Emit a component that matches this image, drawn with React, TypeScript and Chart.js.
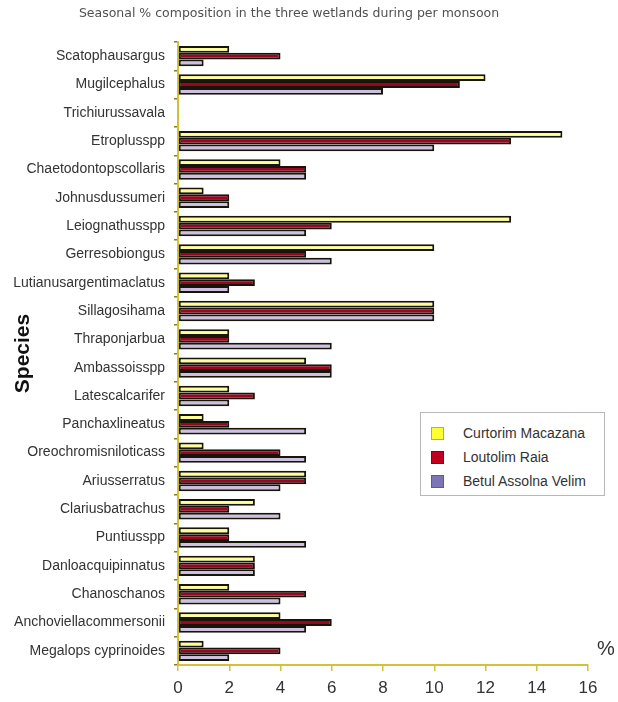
import React, { useEffect, useRef } from "react";
import { Chart, registerables } from "chart.js";

Chart.register(...registerables);

const species = [
  "Scatophausargus",
  "Mugilcephalus",
  "Trichiurussavala",
  "Etroplusspp",
  "Chaetodontopscollaris",
  "Johnusdussumeri",
  "Leiognathusspp",
  "Gerresobiongus",
  "Lutianusargentimaclatus",
  "Sillagosihama",
  "Thraponjarbua",
  "Ambassoisspp",
  "Latescalcarifer",
  "Panchaxlineatus",
  "Oreochromisniloticass",
  "Ariusserratus",
  "Clariusbatrachus",
  "Puntiusspp",
  "Danloacquipinnatus",
  "Chanoschanos",
  "Anchoviellacommersonii",
  "Megalops cyprinoides",
];

const curtorimMacazana = [2, 12, 0, 15, 4, 1, 13, 10, 2, 10, 2, 5, 2, 1, 1, 5, 3, 2, 3, 2, 4, 1];
const loutolimRaia = [4, 11, 0, 13, 5, 2, 6, 5, 3, 10, 2, 6, 3, 2, 4, 5, 2, 2, 3, 5, 6, 4];
const betulAssolnaVelim = [1, 8, 0, 10, 5, 2, 5, 6, 2, 10, 6, 6, 2, 5, 5, 4, 4, 5, 3, 4, 5, 2];

const seriesNames = ["Curtorim Macazana", "Loutolim Raia", "Betul Assolna Velim"];
const xTicks = [0, 2, 4, 6, 8, 10, 12, 14, 16];

const chartTitle = "Seasonal % composition in the three wetlands during per monsoon";

const barFills = ["#ffff99", "#9c0522", "#cdc0e2"];
const legendFills = ["#ffff33", "#c0001e", "#7c76b8"];
const legendEdges = ["#c8b400", "#8a0016", "#5e5898"];
const axisColor = "#d2c23a";
const textColor = "#333333";
const font = "'Liberation Sans', Arial, sans-serif";

const captionPlugin = {
  id: "captions",
  afterDraw(chart: any) {
    const ctx = chart.ctx;
    ctx.save();
    ctx.fillStyle = "#505050";
    ctx.font = `12.5px 'DejaVu Sans', sans-serif`;
    ctx.textAlign = "center";
    ctx.textBaseline = "middle";
    ctx.fillText(chartTitle, 289, 14);
    ctx.fillStyle = textColor;
    ctx.font = `20px ${font}`;
    ctx.fillText("%", 606, 649);
    ctx.restore();
  },
};

export default function App() {
  const ref = useRef<HTMLCanvasElement>(null);

  useEffect(() => {
    const values = [curtorimMacazana, loutolimRaia, betulAssolnaVelim];
    const chart = new Chart(ref.current as HTMLCanvasElement, {
      type: "bar",
      data: {
        labels: species,
        datasets: seriesNames.map((name, i) => ({
          label: name,
          data: values[i],
          backgroundColor: barFills[i],
          borderColor: "#17140a",
          borderWidth: 2,
          borderSkipped: false,
          barPercentage: 1,
          categoryPercentage: 0.72,
        })),
      },
      options: {
        indexAxis: "y",
        responsive: false,
        animation: false,
        layout: { padding: { top: 42, right: 30, left: 0, bottom: 0 } },
        plugins: {
          legend: { display: false },
          tooltip: { enabled: false },
        },
        scales: {
          x: {
            min: 0,
            max: 16,
            afterBuildTicks: (scale: any) => {
              scale.ticks = xTicks.map((v) => ({ value: v }));
            },
            ticks: {
              color: textColor,
              font: { family: font, size: 17 },
              padding: 7,
            },
            grid: { drawOnChartArea: false, tickLength: 6, color: axisColor, lineWidth: 1.5 },
            border: { color: axisColor, width: 2 },
            afterFit: (scale: any) => {
              scale.height = 37;
            },
          },
          y: {
            ticks: {
              color: textColor,
              font: { family: font, size: 14 },
              padding: 9,
              autoSkip: false,
            },
            grid: { drawOnChartArea: false, tickLength: 4, color: "#8a7a10", lineWidth: 1.5 },
            border: { color: axisColor, width: 2 },
            title: {
              display: true,
              text: "Species",
              color: "#111111",
              font: { family: font, size: 21, weight: "bold" },
              padding: { top: 11, bottom: 0 },
            },
            afterFit: (scale: any) => {
              scale.width = 178;
            },
          },
        },
      },
      plugins: [captionPlugin],
    });
    return () => chart.destroy();
  }, []);

  return (
    <div style={{ position: "absolute", left: 0, top: 0, width: 618, height: 702, background: "#ffffff" }}>
      <canvas ref={ref} width={618} height={702} />
      <div
        style={{
          position: "absolute",
          left: 420,
          top: 412,
          width: 183,
          height: 82,
          border: "1px solid #b8b8b8",
          background: "#ffffff",
          fontFamily: font,
          fontSize: 14,
          color: textColor,
        }}
      >
        {seriesNames.map((name, i) => (
          <div
            key={name}
            style={{ position: "absolute", left: 10, top: 12 + i * 24, height: 16, display: "flex", alignItems: "center" }}
          >
            <span
              style={{
                display: "inline-block",
                width: 11,
                height: 11,
                background: legendFills[i],
                border: `1px solid ${legendEdges[i]}`,
                marginRight: 19,
              }}
            />
            <span style={{ whiteSpace: "nowrap" }}>{name}</span>
          </div>
        ))}
      </div>
    </div>
  );
}
